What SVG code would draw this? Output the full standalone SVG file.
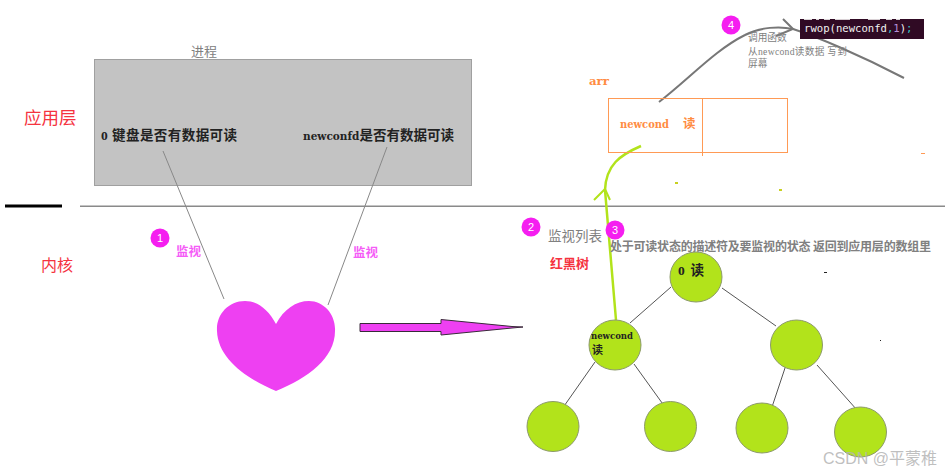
<svg xmlns="http://www.w3.org/2000/svg" width="945" height="473" viewBox="0 0 945 473">
<style>
text{font-family:"Liberation Serif","Noto Sans CJK SC",serif}
.b{font-weight:bold;fill:#222}
.g{fill:#808080}
.r{fill:#f5333f}
.m{fill:#f55cf7;font-weight:bold;font-size:12.500px}
.o{fill:#ff8c42;font-weight:bold}
.w{font-family:"DejaVu Serif","Noto Sans CJK SC",serif}
.n{fill:#b2e31b;stroke:#8c9a6a;stroke-width:1}
.l{fill:none;stroke:#555;stroke-width:1}
.badge{fill:#f51ef0}
.bt{fill:#fff;font-family:"Liberation Sans",sans-serif;font-size:11px;text-anchor:middle}
</style>
<rect width="945" height="473" fill="#fff"/>
<g id="process">
<rect x="94.500" y="59.500" width="377" height="126" fill="#c3c3c3" stroke="#a0a0a0" stroke-width="1"/>
<text x="191" y="56" class="g" font-size="13">进程</text>
<text x="101" y="140" class="b" font-size="13.500" textLength="136">0 键盘是否有数据可读</text>
<text x="303" y="140" class="b" font-size="13.500" textLength="151"><tspan class="w" font-size="10.500">newconfd</tspan>是否有数据可读</text>
</g>
<g id="layers">
<text x="24" y="124" class="r" font-size="17.500">应用层</text>
<text x="41" y="271" class="r" font-size="16">内核</text>
<rect x="5" y="204.500" width="57" height="3" fill="#000"/>
<rect x="80" y="205.500" width="865" height="1.500" fill="#8a8a8a"/>
</g>
<g id="connectors">
<path d="M163 151L224 299M387 147L328 305" fill="none" stroke="#888" stroke-width="1"/>
<path class="l" d="M671 287L630 323M722 288L776 326M595 362L562 409M634 364L665 407M786 365L772 407M817 365L857 410"/>
<path d="M360 323.500H441V319.500L512 326.500L523 327L512 328L441 335V331.500H360Z" fill="#ee40f2" stroke="#3a2a3a" stroke-width="1"/>
<path d="M659 102C690 78 715 50 745 35C760 27 780 26 793 29C815 36 860 55 904 78" fill="none" stroke="#777" stroke-width="2"/>
<path d="M783 19L793 29L776 36" fill="none" stroke="#777" stroke-width="2"/>
<path d="M616 320L605 190C606 165 620 155 641 146" fill="none" stroke="#b2e31b" stroke-width="2.500"/>
<path d="M594 200L605 189L610 200" fill="none" stroke="#b2e31b" stroke-width="2"/>
</g>
<g id="heart">
<path d="M276 324C268 309 257 301 245 301C228 301 216 315 217 331C218 358 245 378 276 391C308 378 335 358 335 331C336 315 324 301 309 301C296 301 284 309 276 324Z" fill="#ee40f2"/>
</g>
<g id="badge1"><circle cx="160" cy="238" r="9.500" class="badge"/><text x="160" y="242" class="bt">1</text></g>
<g id="badge2"><circle cx="531" cy="227" r="9.500" class="badge"/><text x="531" y="231" class="bt">2</text></g>
<g id="badge3"><circle cx="615" cy="230" r="9.500" class="badge"/><text x="615" y="234" class="bt">3</text></g>
<g id="badge4"><circle cx="731" cy="25" r="9.500" class="badge"/><text x="731" y="29" class="bt">4</text></g>
<g id="labels">
<text x="176" y="256" class="m">监视</text>
<text x="353" y="257" class="m">监视</text>
<text x="548" y="241" class="g" font-size="13.500">监视列表</text>
<text x="550" y="268" class="r" font-size="13" font-weight="bold">红黑树</text>
<text x="610" y="251" class="g" font-size="12" font-weight="bold" textLength="321">处于可读状态的描述符及要监视的状态 返回到应用层的数组里</text>
</g>
<g id="arr">
<text x="589" y="85" class="o w" font-size="10.500" textLength="20" lengthAdjust="spacingAndGlyphs">arr</text>
<rect x="608.500" y="98.500" width="179" height="54" fill="none" stroke="#ff9a55" stroke-width="1"/>
<path d="M702.500 98V156" stroke="#ff9a55" stroke-width="1"/>
<text x="620" y="128" class="o w" font-size="10.500" textLength="49" lengthAdjust="spacingAndGlyphs">newcond</text>
<text x="683" y="128" class="o" font-size="12.500">读</text>
</g>
<g id="call">
<rect x="800" y="19" width="124" height="20" fill="#300a24"/>
<path d="M804 19.500H812M816 19.500H819M824 19.500H830M835 19.500H850M868 19.500H880M886 19.500H892M896 19.500H900" stroke="#d8d0d4" stroke-width="1"/>
<text x="804" y="32" fill="#f2f2f2" font-size="10.600" style="font-family:'DejaVu Sans Mono','Liberation Mono',monospace">rwop(newconfd<tspan fill="#35c6c6">,</tspan><tspan fill="#b58fd8">1</tspan>)<tspan fill="#35c6c6">;</tspan></text>
<text x="748" y="41" class="g" font-size="9.700">调用函数</text>
<text x="748" y="55" class="g" font-size="9.700" textLength="99">从newcond读数据 写到</text>
<text x="748" y="67" class="g" font-size="9.700">屏幕</text>
</g>
<g id="node-root"><ellipse cx="696" cy="277" rx="26" ry="25" class="n"/><text x="678" y="275" class="b" font-size="13.500" textLength="26">0 读</text></g>
<g id="node-left"><ellipse cx="615" cy="345" rx="26" ry="25" class="n"/><text x="591" y="339" class="b w" font-size="9.500" textLength="42" lengthAdjust="spacingAndGlyphs">newcond</text><text x="592" y="354" class="b" font-size="11">读</text></g>
<g id="node-right"><ellipse cx="796.500" cy="345" rx="26" ry="25" class="n"/></g>
<g id="node-ll"><ellipse cx="553" cy="426.500" rx="26" ry="25" class="n"/></g>
<g id="node-lr"><ellipse cx="670.500" cy="426.500" rx="26" ry="25" class="n"/></g>
<g id="node-rl"><ellipse cx="762" cy="428" rx="26" ry="25" class="n"/></g>
<g id="node-rr"><ellipse cx="860.500" cy="432" rx="26" ry="25" class="n"/></g>
<g id="specks">
<rect x="675" y="182" width="3" height="2" fill="#c8d020"/><rect x="779" y="189" width="3" height="2" fill="#c8d020"/>
<rect x="921" y="153" width="4" height="1" fill="#ff9a55"/><rect x="824" y="272" width="3" height="1" fill="#222"/><rect x="880" y="340" width="1" height="1" fill="#222"/>
</g>
<text x="823" y="464" fill="#b4b4b4" fill-opacity=".85" font-size="16" style="font-family:'Liberation Sans','Noto Sans CJK SC',sans-serif">CSDN @平蒙稚</text>
</svg>
